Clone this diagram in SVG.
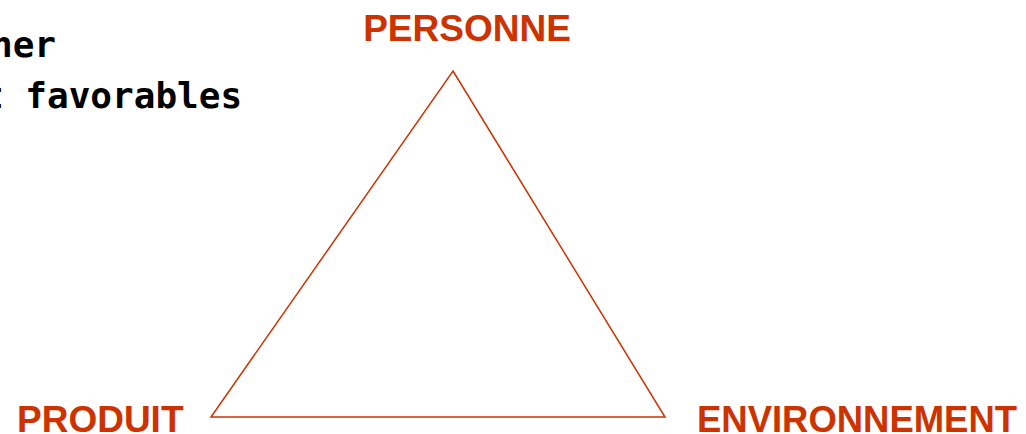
<svg xmlns="http://www.w3.org/2000/svg" width="1026" height="434" viewBox="0 0 1026 434">
<style>
.lbl{font-family:"Liberation Sans",Arial,sans-serif;font-weight:bold;font-size:37px;fill:#CC3300}
.txt{font-family:"DejaVu Sans Mono",monospace;font-weight:bold;font-size:36px;fill:#000}
</style>
<rect width="1026" height="434" fill="#fff"/>
<g id="text">
<text class="txt" x="56" y="57" text-anchor="end">ner</text>
<text class="txt" x="-18" y="108">t favorables</text>
</g>
<g id="connectors">
<polygon points="453,71 665,417 211,417" fill="none" stroke="#CC3300" stroke-width="1.5"/>
</g>
<g id="personne"><text class="lbl" x="467" y="41" text-anchor="middle">PERSONNE</text></g>
<g id="produit"><text class="lbl" x="17" y="432">PRODUIT</text></g>
<g id="environnement"><text class="lbl" x="697" y="432" textLength="320" lengthAdjust="spacingAndGlyphs">ENVIRONNEMENT</text></g>
</svg>
